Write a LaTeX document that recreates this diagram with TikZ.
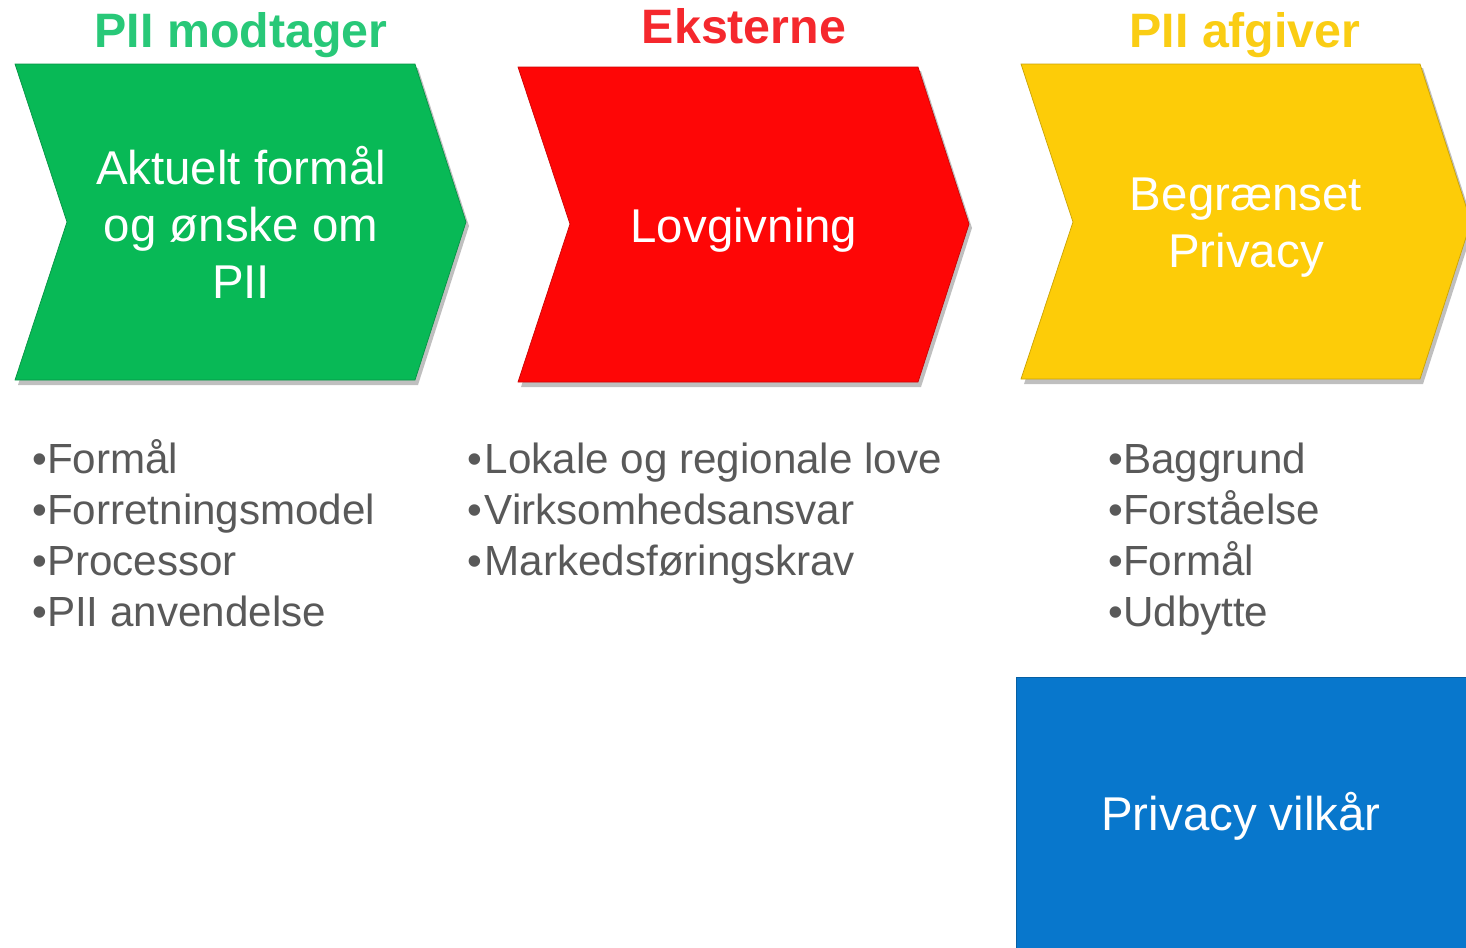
\documentclass[tikz,border=0pt]{standalone}
\usepackage{fontspec}
\setmainfont{Liberation Sans}
\usepackage{tikz}

\definecolor{chgreen}{RGB}{8,185,86}
\definecolor{chred}{RGB}{254,6,6}
\definecolor{chyellow}{RGB}{253,204,8}
\definecolor{chblue}{RGB}{8,119,204}
\definecolor{ttgreen}{RGB}{40,200,120}
\definecolor{ttred}{RGB}{245,40,45}
\definecolor{ttyellow}{RGB}{250,205,20}
\definecolor{itemgray}{RGB}{89,89,89}

\tikzset{
  shadow/.style={fill=black,opacity=0.25},
  boxtext/.style={text=white,align=center,inner sep=0pt,
    font=\fontsize{27pt}{32.5pt}\selectfont},
  title/.style={font=\fontsize{27.5pt}{30pt}\selectfont\bfseries,inner sep=0pt,anchor=base},
  item/.style={text=itemgray,inner sep=0pt,anchor=base west,
    font=\fontsize{24pt}{28.9pt}\selectfont}
}

\begin{document}
\begin{tikzpicture}[x=0.02cm,y=-0.02cm]
\clip (0,0) rectangle (1466,947);
\fill[white] (0,0) rectangle (1466,947);

% shadows
\begin{scope}[shadow]
  \fill (18,68) -- (418,68) -- (469,226) -- (418,385) -- (18,385) -- (70,226) -- cycle;
  \fill (521,71) -- (921,71) -- (972,228) -- (921,387) -- (521,387) -- (573,228) -- cycle;
  \fill (1024,68) -- (1423,68) -- (1474,226) -- (1423,384) -- (1024,384) -- (1076,226) -- cycle;
  \fill (1019,681) rectangle (1475,955);
\end{scope}

% chevrons
\filldraw[fill=chgreen,draw=chgreen!80!black] (15,64) -- (415,64) -- (466,222) -- (415,380) -- (15,380) -- (67,222) -- cycle;
\filldraw[fill=chred,draw=chred!80!black] (518,67) -- (918,67) -- (969,224) -- (918,382) -- (518,382) -- (570,224) -- cycle;
\filldraw[fill=chyellow,draw=chyellow!80!black] (1021,64) -- (1420,64) -- (1471,222) -- (1420,379) -- (1021,379) -- (1073,222) -- cycle;
\filldraw[fill=chblue,draw=chblue!80!black] (1016,677) rectangle (1472,952);

% titles
\node[title,text=ttgreen] (modtager) at (241,47) {PII modtager};
\node[title,text=ttred] (eksterne) at (744,43) {Eksterne};
\node[title,text=ttyellow] (afgiver) at (1245,47) {PII afgiver};

% box texts
\node[boxtext] (formaal) at (241,222) {Aktuelt formål\\og ønske om\\PII};
\node[boxtext] (lov) at (744,230) {Lovgivning};
\node[boxtext] (begr) at (1246,228) {Begrænset\\Privacy};
\node[boxtext] (vilkaar) at (1241,816) {Privacy vilkår};

% lists
\foreach \t [count=\i] in {Formål,Forretningsmodel,Processor,PII anvendelse}
  \node[item] (g\i) at (32,473+51*\i-51) {\textbullet\t};
\foreach \t [count=\i] in {Lokale og regionale love,Virksomhedsansvar,Markedsføringskrav}
  \node[item] (r\i) at (467,473+51*\i-51) {\textbullet\hspace{1.5pt}\t};
\foreach \t [count=\i] in {Baggrund,Forståelse,Formål,Udbytte}
  \node[item] (y\i) at (1108,473+51*\i-51) {\textbullet\t};
\end{tikzpicture}
\end{document}
